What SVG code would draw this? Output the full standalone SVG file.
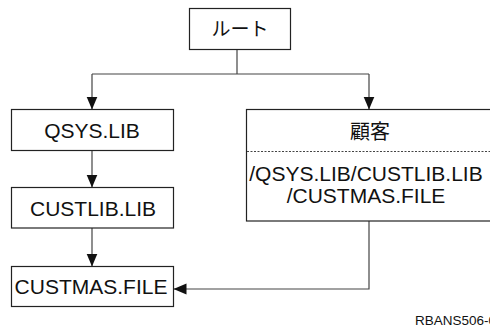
<svg xmlns="http://www.w3.org/2000/svg" width="490" height="333" viewBox="0 0 490 333">
<defs>
<style>
.box{fill:#fff;stroke:#222;stroke-width:1.2}
.t{font-family:"Liberation Sans","Noto Sans CJK JP",Arial,sans-serif;font-size:21px;fill:#111;text-anchor:middle}
.j{font-family:"Noto Sans CJK JP","Liberation Sans",sans-serif;font-size:19px;fill:#111;text-anchor:middle}
.c{fill:none;stroke:#444;stroke-width:1.2}
.dash{stroke:#444;stroke-width:1;stroke-dasharray:2,1.5}
.id{font-family:"Liberation Sans",Arial,sans-serif;font-size:13.5px;fill:#111}
</style>
<marker id="ah" markerUnits="userSpaceOnUse" markerWidth="14" markerHeight="12" refX="13" refY="6" orient="auto" viewBox="0 0 14 12">
<path d="M0,0.5 L13,6 L0,11.5 Z" fill="#111"/>
</marker>
</defs>
<rect width="490" height="333" fill="#fff"/>
<g id="connectors">
<path class="c" d="M237,49 V74"/>
<path class="c" d="M92,74 H369"/>
<path class="c" d="M92,74 V109.5" marker-end="url(#ah)"/>
<path class="c" d="M369,74 V109.5" marker-end="url(#ah)"/>
<path class="c" d="M92,150.5 V187.5" marker-end="url(#ah)"/>
<path class="c" d="M92,228 V266.5" marker-end="url(#ah)"/>
<path class="c" d="M369,221 V289 H173.5" marker-end="url(#ah)"/>
</g>
<g id="root">
<rect class="box" x="189.5" y="8.5" width="101" height="41"/>
<text class="j" x="240" y="35.5">ルート</text>
</g>
<g id="qsys">
<rect class="box" x="11.5" y="109.5" width="162" height="41"/>
<text class="t" x="92" y="137.7">QSYS.LIB</text>
</g>
<g id="custlib">
<rect class="box" x="11.5" y="187.5" width="162" height="40.5"/>
<text class="t" x="93" y="215.7">CUSTLIB.LIB</text>
</g>
<g id="custmas">
<rect class="box" x="11.5" y="266.5" width="162" height="40"/>
<text class="t" x="91" y="294">CUSTMAS.FILE</text>
</g>
<g id="kokyaku">
<rect class="box" x="246.5" y="109.5" width="245" height="111.5"/>
<line class="dash" x1="247" y1="151.5" x2="490" y2="151.5"/>
<text class="j" x="370" y="138.5" style="font-size:20px">顧客</text>
<text class="t" x="366" y="181">/QSYS.LIB/CUSTLIB.LIB</text>
<text class="t" x="366" y="203">/CUSTMAS.FILE</text>
</g>
<text class="id" x="415" y="325">RBANS506-0</text>
</svg>
